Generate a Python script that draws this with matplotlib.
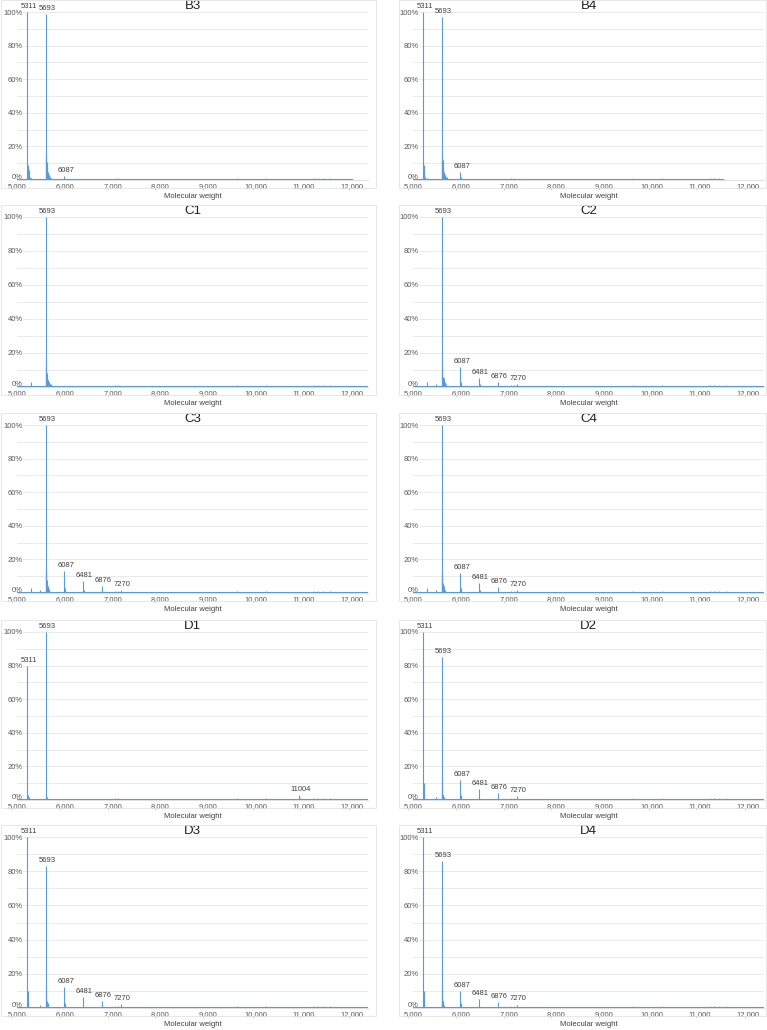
import matplotlib.pyplot as plt
import matplotlib.transforms as mtransforms
from matplotlib.patches import Rectangle

plt.rcParams['font.family'] = ['Liberation Sans', 'DejaVu Sans']

W, H = 767, 1030
BLUE = '#5b9bd5'
GRID = '#e6e6e6'
TXT = '#404040'

# panel order: left column then right column, row by row
panel_names = ['B3', 'B4', 'C1', 'C2', 'C3', 'C4', 'D1', 'D2', 'D3', 'D4']

# axis tick values and the shift between axis labels and true peak masses
tick_vals = [5000, 6000, 7000, 8000, 9000, 10000, 11000, 12000]
label_shift = 95
y_ticks = [0, 20, 40, 60, 80, 100]

# spectra: (molecular weight, % of base peak)
b3_peaks = [(5311, 100), (5316, 9), (5322, 8), (5328, 5), (5334, 4), (5345, 6), (5352, 2),
            (5360, 1.5), (5380, 1), (5420, 0.8),
            (5693, 99), (5698, 15), (5703, 14), (5708, 13), (5713, 10), (5718, 8), (5724, 6),
            (5730, 11), (5736, 5), (5742, 4), (5748, 4), (5755, 3), (5765, 3), (5775, 2.5),
            (5785, 2), (5810, 1.2), (6087, 2.5)]
b4_peaks = [(5311, 100), (5316, 9), (5322, 6), (5328, 4), (5335, 2.5), (5345, 2), (5380, 1),
            (5693, 97), (5698, 15), (5703, 13), (5708, 12), (5714, 8), (5720, 5), (5728, 12),
            (5735, 5), (5742, 4), (5750, 4), (5760, 3), (5770, 3), (5785, 2), (5800, 1.5),
            (6087, 4.5), (6095, 1.5)]
c1_peaks = [(5385, 3), (5693, 100), (5698, 15), (5703, 12), (5708, 10), (5714, 6), (5720, 5),
            (5728, 8), (5736, 4), (5745, 4), (5755, 3), (5770, 3), (5785, 2), (5800, 1.5)]
c2_peaks = [(5385, 3), (5570, 1.5), (5693, 100), (5698, 14), (5703, 11), (5708, 9), (5715, 6),
            (5722, 5), (5735, 5), (5748, 3), (5760, 3), (5780, 1.5),
            (6087, 12), (6093, 3), (6100, 2), (6481, 5.5), (6487, 1.5), (6876, 3), (7270, 1.5)]
c3_peaks = [(5385, 3), (5570, 1.5), (5693, 100), (5698, 15), (5703, 14), (5708, 12), (5714, 8),
            (5720, 5), (5726, 5), (5735, 4), (5745, 3.5), (5758, 2.5), (5770, 2),
            (6087, 13), (6093, 3), (6100, 2), (6481, 7), (6487, 1.5), (6876, 4), (7270, 2)]
c4_peaks = [(5385, 3), (5570, 1.5), (5693, 100), (5698, 14), (5703, 12), (5708, 10), (5715, 6),
            (5722, 4), (5735, 4), (5748, 3), (5760, 2),
            (6087, 12), (6093, 3), (6100, 1.5), (6481, 6), (6487, 1.5), (6876, 3.5), (7270, 1.5)]
d1_peaks = [(5311, 80), (5320, 3), (5340, 1.5), (5693, 100), (5700, 4), (5715, 2),
            (11004, 3), (11020, 1)]
d2_peaks = [(5311, 100), (5316, 10), (5322, 4), (5330, 2), (5571, 2), (5693, 85), (5698, 13),
            (5703, 8), (5710, 4), (5720, 3), (5730, 3), (5745, 2),
            (6087, 12), (6093, 3), (6100, 2), (6481, 6.5), (6876, 4), (7270, 2.5)]
d3_peaks = [(5311, 100), (5316, 10), (5322, 4), (5330, 2), (5571, 2), (5693, 83), (5698, 14),
            (5703, 8), (5715, 4), (5725, 3), (5735, 3), (5750, 2),
            (6087, 12), (6093, 3), (6100, 1.5), (6481, 6.5), (6876, 4), (7270, 2.5)]
d4_peaks = [(5311, 100), (5316, 10), (5322, 5), (5330, 3), (5693, 86), (5698, 13), (5703, 10),
            (5710, 8), (5720, 4), (5730, 4), (5745, 2),
            (6087, 10), (6093, 3), (6100, 1.5), (6481, 5), (6876, 3.5), (7270, 2)]
all_peaks = [b3_peaks, b4_peaks, c1_peaks, c2_peaks, c3_peaks,
             c4_peaks, d1_peaks, d2_peaks, d3_peaks, d4_peaks]

# annotated masses per panel
b_labels = [5311, 5693, 6087]
c1_labels = [5693]
c_labels = [5693, 6087, 6481, 6876, 7270]
d1_labels = [5311, 5693, 11004]
d_labels = [5311, 5693, 6087, 6481, 6876, 7270]
all_labels = [b_labels, b_labels, c1_labels, c_labels, c_labels,
              c_labels, d1_labels, d_labels, d_labels, d_labels]

# last mass recorded in each spectrum
data_end = [12095, 11585, 12440, 12440, 12440, 12440, 12440, 12440, 12440, 12440]

# low-level background signal
grass = [(5150, 0.6), (5250, 0.5), (5480, 0.8), (5900, 0.7), (6200, 0.6), (6350, 0.5),
         (6600, 0.5), (6950, 0.6), (7150, 0.9), (7200, 1.0), (7400, 0.6), (7650, 0.7),
         (7900, 0.5), (8150, 0.6), (8400, 0.5), (8700, 0.6), (8950, 0.7), (9250, 0.6),
         (9500, 0.5), (9700, 1.0), (9750, 0.8), (10050, 0.6), (10300, 0.9), (10550, 0.6),
         (10800, 0.7), (11050, 0.6), (11300, 0.9), (11400, 1.1), (11500, 0.9), (11650, 1.2),
         (11800, 0.7), (12000, 0.8), (12200, 0.6), (12350, 0.5)]

# layout in pixels
col_x = [(17, 368), (413, 764)]
box_x = [(1, 376), (399, 766)]
row_y = [(12, 180), (217, 387), (425, 593), (632, 800), (837, 1008)]

fig = plt.figure(figsize=(W / 100, H / 100), dpi=100)
lift = mtransforms.ScaledTranslation(0, 2.5 / 72, fig.dpi_scale_trans)

for i, name in enumerate(panel_names):
    r, c = divmod(i, 2)
    x0, x1 = col_x[c]
    top, bot = row_y[r]

    bx0, bx1 = box_x[c]
    fig.patches.append(Rectangle((bx0 / W, 1 - (bot + 8) / H), (bx1 - bx0) / W, (bot - top + 20) / H,
                                 transform=fig.transFigure, fill=False, edgecolor='#e3e3e3',
                                 linewidth=0.6, zorder=0))

    ax = fig.add_axes([x0 / W, 1 - bot / H, (x1 - x0) / W, (bot - top) / H])
    xmin = tick_vals[0] + label_shift
    xmax = 12440
    ax.set_xlim(xmin, xmax)
    ax.set_ylim(0, 100)

    for g in range(10, 101, 10):
        ax.axhline(g, color=GRID, lw=0.6, zorder=0)

    end = data_end[i]
    ax.plot([xmin, end], [0.3, 0.3], color=BLUE, lw=0.8, zorder=2)
    gx = [m for m, h in grass if m < end]
    gh = [h for m, h in grass if m < end]
    ax.vlines(gx, 0, gh, color=BLUE, lw=0.6, zorder=2)

    mws = [m for m, h in all_peaks[i]]
    pcts = [h for m, h in all_peaks[i]]
    ax.vlines(mws, 0, pcts, color=BLUE, lw=0.8, zorder=3)

    heights = dict(all_peaks[i])
    for m in all_labels[i]:
        ax.annotate(str(m), (m, heights[m]), xytext=(1, 1.5), textcoords='offset points',
                    ha='center', va='bottom', fontsize=5.5, color=TXT)

    ax.set_xticks([t + label_shift for t in tick_vals])
    ax.set_xticklabels([f'{t:,}' for t in tick_vals])
    ax.set_yticks(y_ticks)
    ax.set_yticklabels([f'{t}%' for t in y_ticks])
    ax.tick_params(axis='both', length=0, labelsize=5.5, labelcolor='#595959')
    ax.tick_params(axis='x', pad=2)
    ax.tick_params(axis='y', pad=-4)
    ylabs = ax.get_yticklabels()
    for lab in ylabs:
        lab.set_horizontalalignment('right')
        lab.set_bbox(dict(facecolor='white', edgecolor='none', pad=0.3))
    ylabs[0].set_transform(ylabs[0].get_transform() + lift)

    for s in ['top', 'right', 'left']:
        ax.spines[s].set_visible(False)
    ax.spines['bottom'].set_color('#d9d9d9')
    ax.spines['bottom'].set_linewidth(0.6)

    ax.set_xlabel('Molecular weight', fontsize=5.5, color=TXT, labelpad=2)
    ax.set_title(name, fontsize=9.5, color='#202020', pad=1)

fig.savefig('out.png', dpi=100, facecolor='white')
